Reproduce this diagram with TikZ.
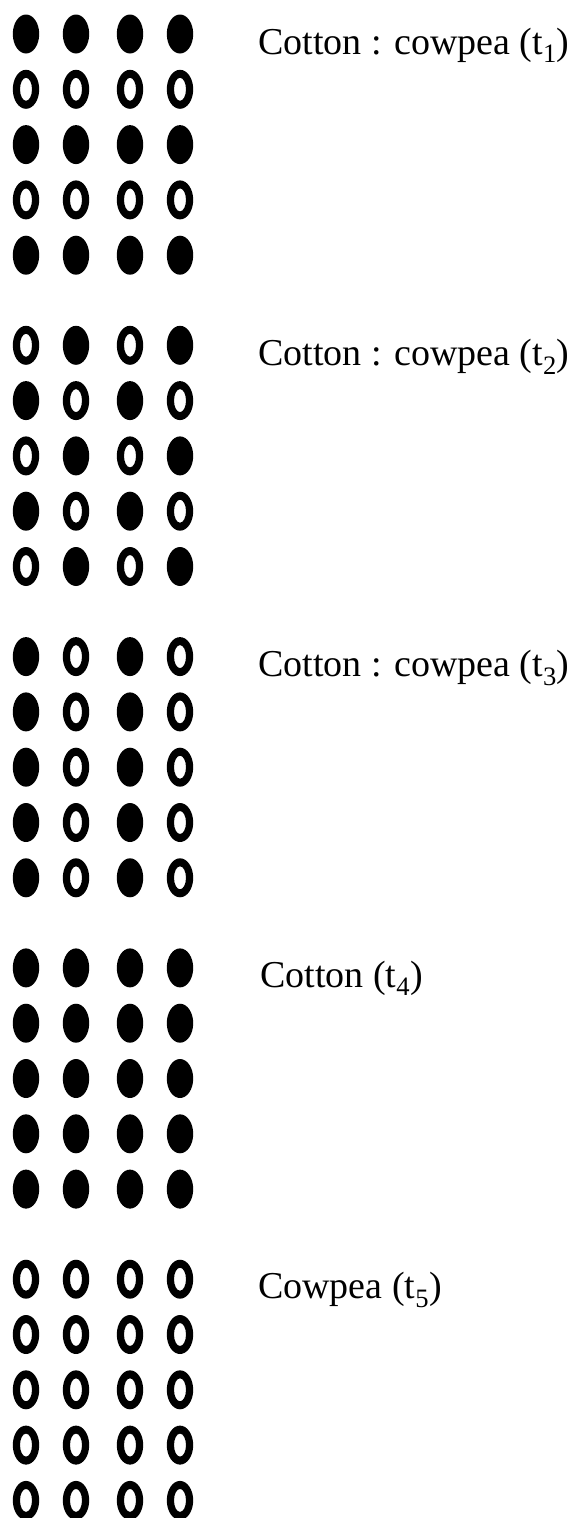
\documentclass[tikz,border=0pt]{standalone}
\usepackage{fontspec}
\setmainfont{Liberation Serif}
\begin{document}
\begin{tikzpicture}[x=1pt,y=-1pt,
  lbl/.style={anchor=base west,inner sep=0pt,font=\fontsize{38}{46}\selectfont}]
\useasboundingbox (0,0) rectangle (571,1518);
\newcommand\filldot[2]{\fill (#1,#2) ellipse [x radius=13.2,y radius=19.5];}
\newcommand\opendot[2]{\fill[even odd rule] (#1,#2) ellipse [x radius=13.2,y radius=19.5] (#1,#2) ellipse [x radius=6,y radius=11.5];}
\newcommand\dotrow[5]{%
  \foreach \v/\xx in {#2/26,#3/76,#4/130,#5/180}{%
    \ifnum\v=1 \filldot{\xx}{#1}\else\opendot{\xx}{#1}\fi}}
% group 1 (t1)
\dotrow{34}{1}{1}{1}{1}
\dotrow{89.3}{0}{0}{0}{0}
\dotrow{144.6}{1}{1}{1}{1}
\dotrow{199.9}{0}{0}{0}{0}
\dotrow{255.2}{1}{1}{1}{1}
% group 2 (t2)
\dotrow{345.3}{0}{1}{0}{1}
\dotrow{400.6}{1}{0}{1}{0}
\dotrow{455.9}{0}{1}{0}{1}
\dotrow{511.2}{1}{0}{1}{0}
\dotrow{566.5}{0}{1}{0}{1}
% group 3 (t3)
\dotrow{656.6}{1}{0}{1}{0}
\dotrow{711.9}{1}{0}{1}{0}
\dotrow{767.2}{1}{0}{1}{0}
\dotrow{822.5}{1}{0}{1}{0}
\dotrow{877.8}{1}{0}{1}{0}
% group 4 (t4)
\dotrow{967.9}{1}{1}{1}{1}
\dotrow{1023.2}{1}{1}{1}{1}
\dotrow{1078.5}{1}{1}{1}{1}
\dotrow{1133.8}{1}{1}{1}{1}
\dotrow{1189.1}{1}{1}{1}{1}
% group 5 (t5)
\dotrow{1279.2}{0}{0}{0}{0}
\dotrow{1334.5}{0}{0}{0}{0}
\dotrow{1389.8}{0}{0}{0}{0}
\dotrow{1445.1}{0}{0}{0}{0}
\dotrow{1500.4}{0}{0}{0}{0}
\node[lbl] (t1) at (258,54) {Cotton : cowpea (t\textsubscript{1})};
\node[lbl] (t2) at (258,365.3) {Cotton : cowpea (t\textsubscript{2})};
\node[lbl] (t3) at (258,676.6) {Cotton : cowpea (t\textsubscript{3})};
\node[lbl] (t4) at (260,987) {Cotton (t\textsubscript{4})};
\node[lbl] (t5) at (258,1298.5) {Cowpea (t\textsubscript{5})};
\end{tikzpicture}
\end{document}
